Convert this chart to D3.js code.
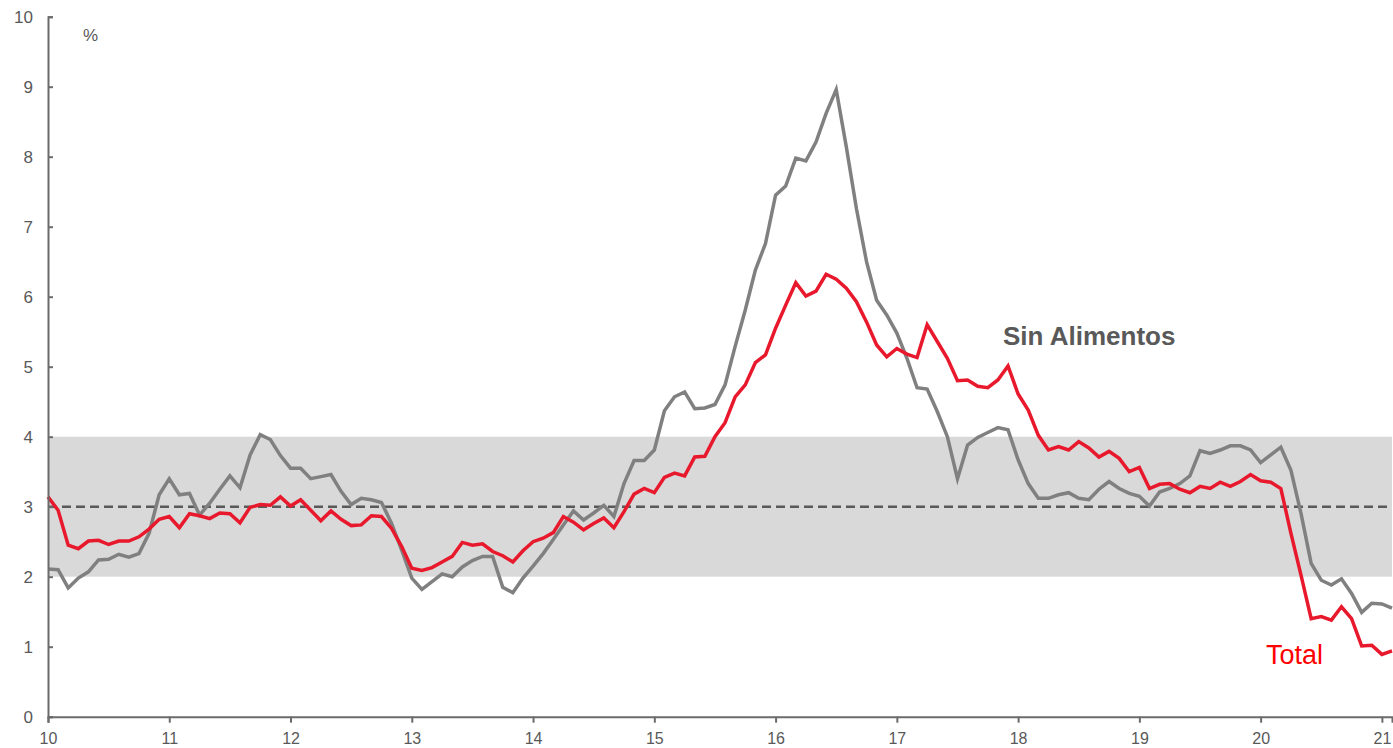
<!DOCTYPE html>
<html>
<head>
<meta charset="utf-8">
<script src="https://cdn.jsdelivr.net/npm/d3@7"></script>
<style>
  html, body { margin: 0; padding: 0; background: #ffffff; }
  svg { display: block; font-family: "Liberation Sans", Arial, sans-serif; }
</style>
</head>
<body>
<svg id="chart" width="1393" height="748"></svg>
<script>
// Year tick labels (January of each year), monthly data from Jan 2010
const yearLabels = ["10","11","12","13","14","15","16","17","18","19","20","21"];
const yTicks = [0,1,2,3,4,5,6,7,8,9,10];

// Total (red)
const total = [
  3.14,2.95,2.45,2.40,2.51,2.52,2.46,2.51,2.51,2.57,2.68,2.82,
  2.86,2.70,2.90,2.87,2.83,2.91,2.90,2.77,2.99,3.03,3.02,3.14,
  3.01,3.10,2.95,2.80,2.94,2.82,2.73,2.74,2.87,2.86,2.69,2.43,
  2.12,2.09,2.13,2.21,2.29,2.49,2.45,2.47,2.36,2.30,2.21,2.37,
  2.50,2.55,2.63,2.86,2.78,2.67,2.76,2.84,2.70,2.93,3.18,3.26,
  3.20,3.42,3.48,3.44,3.71,3.72,4.00,4.20,4.57,4.74,5.06,5.17,
  5.55,5.88,6.20,6.01,6.08,6.32,6.25,6.12,5.93,5.64,5.31,5.14,
  5.26,5.18,5.13,5.60,5.36,5.12,4.80,4.81,4.72,4.70,4.81,5.01,
  4.61,4.38,4.02,3.81,3.86,3.81,3.93,3.84,3.71,3.79,3.69,3.50,
  3.56,3.26,3.32,3.33,3.25,3.20,3.29,3.26,3.35,3.29,3.36,3.46,
  3.37,3.35,3.26,2.62,2.02,1.40,1.43,1.38,1.57,1.40,1.01,1.02,
  0.89,0.94
];

// Sin Alimentos (grey)
const sinAlimentos = [
  2.11,2.10,1.84,1.98,2.07,2.24,2.25,2.32,2.28,2.33,2.62,3.17,
  3.40,3.17,3.19,2.88,3.05,3.25,3.44,3.27,3.74,4.03,3.96,3.73,
  3.55,3.55,3.40,3.43,3.46,3.22,3.03,3.12,3.10,3.06,2.76,2.38,
  1.98,1.82,1.93,2.04,2.00,2.14,2.23,2.29,2.29,1.85,1.77,1.98,
  2.15,2.33,2.53,2.74,2.94,2.81,2.91,3.02,2.86,3.33,3.66,3.66,
  3.81,4.37,4.57,4.64,4.40,4.41,4.46,4.74,5.29,5.81,6.38,6.76,
  7.45,7.58,7.98,7.94,8.21,8.62,8.96,8.14,7.26,6.50,5.95,5.74,
  5.48,5.12,4.70,4.68,4.36,4.00,3.40,3.88,3.99,4.06,4.13,4.10,
  3.67,3.33,3.12,3.12,3.17,3.20,3.12,3.10,3.25,3.36,3.26,3.19,
  3.15,3.01,3.21,3.26,3.33,3.44,3.80,3.76,3.81,3.87,3.87,3.81,
  3.63,3.74,3.85,3.52,2.90,2.19,1.95,1.88,1.97,1.76,1.49,1.62,
  1.61,1.55
];

// Target band and target
const bandLow = 2, bandHigh = 4, target = 3;

(function () {
const svg = d3.select("#chart");
const mLeft = 48, mRight = 1392, mTop = 16.7, mBottom = 716.7;
const axisColor = "#6b6b6b";
const textColor = "#595959";

const x = d3.scaleLinear().domain([0, total.length - 1]).range([mLeft, mRight]);
const y = d3.scaleLinear().domain([0, 10]).range([mBottom, mTop]);

// band
svg.append("rect")
  .attr("x", mLeft).attr("y", y(bandHigh))
  .attr("width", mRight - mLeft).attr("height", y(bandLow) - y(bandHigh))
  .attr("fill", "#d9d9d9");

// target dashed line
svg.append("line")
  .attr("x1", mLeft).attr("x2", mRight)
  .attr("y1", y(target)).attr("y2", y(target))
  .attr("stroke", "#595959").attr("stroke-width", 2.5)
  .attr("stroke-dasharray", "9,5");

const line = d3.line().x((d, i) => x(i)).y(d => y(d));

svg.append("path").datum(sinAlimentos)
  .attr("d", line).attr("fill", "none")
  .attr("stroke", "#808080").attr("stroke-width", 3.5)
  .attr("stroke-linejoin", "miter");

svg.append("path").datum(total)
  .attr("d", line).attr("fill", "none")
  .attr("stroke", "#e8192c").attr("stroke-width", 3.5)
  .attr("stroke-linejoin", "miter");

// Y axis
const yAxis = d3.axisRight(y).tickValues(yTicks).tickSize(5).tickFormat(d3.format("d"));
const gy = svg.append("g").attr("transform", `translate(${mLeft},0)`).call(yAxis);
gy.select(".domain").attr("stroke", axisColor).attr("stroke-width", 2);
gy.selectAll(".tick line").attr("stroke", axisColor).attr("stroke-width", 2);
gy.selectAll(".tick text")
  .attr("x", -15).attr("text-anchor", "end")
  .attr("fill", textColor).attr("font-size", 17)
  .attr("font-family", "Liberation Sans, Arial, sans-serif");

// X axis
const xTickVals = yearLabels.map((d, i) => i * 12);
const xAxis = d3.axisBottom(x).tickValues(xTickVals).tickSize(6)
  .tickFormat((d, i) => yearLabels[i]);
const gx = svg.append("g").attr("transform", `translate(0,${mBottom})`).call(xAxis);
gx.select(".domain").attr("stroke", axisColor).attr("stroke-width", 2);
gx.selectAll(".tick line").attr("stroke", axisColor).attr("stroke-width", 2);
gx.selectAll(".tick text")
  .attr("y", 15.5)
  .attr("fill", textColor).attr("font-size", 16)
  .attr("font-family", "Liberation Sans, Arial, sans-serif");

// % unit label
svg.append("text").attr("x", 83).attr("y", 41)
  .attr("fill", textColor).attr("font-size", 17).text("%");

// Series labels
svg.append("text").attr("x", 1003).attr("y", 345)
  .attr("fill", "#595959").attr("font-size", 26).attr("font-weight", "bold")
  .text("Sin Alimentos");
svg.append("text").attr("x", 1266).attr("y", 664)
  .attr("fill", "#ff0000").attr("font-size", 27)
  .text("Total");
})();
</script>
</body>
</html>
